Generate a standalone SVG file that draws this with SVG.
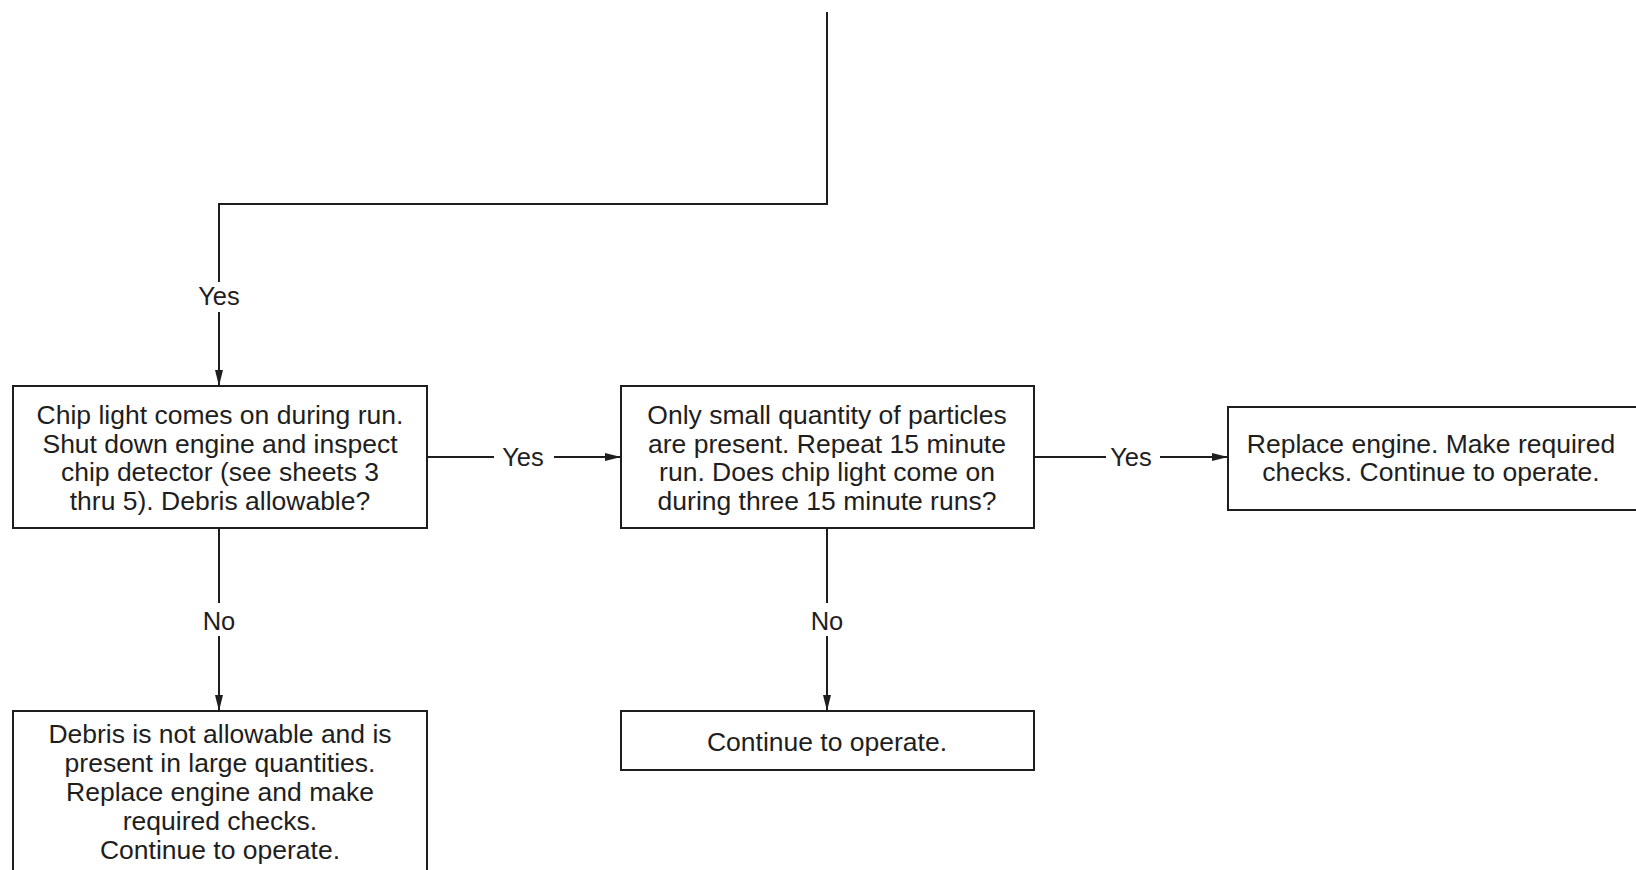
<svg xmlns="http://www.w3.org/2000/svg" width="1636" height="870" viewBox="0 0 1636 870">
  <style>
    .box { fill: #ffffff; stroke: #1e1e1e; stroke-width: 2; }
    .wire { fill: none; stroke: #1e1e1e; stroke-width: 2; }
    .txt { font-family: "Liberation Sans", Arial, sans-serif; font-size: 26.5px; fill: #1e1e1e; text-anchor: middle; }
    .lbl { font-family: "Liberation Sans", Arial, sans-serif; font-size: 25.5px; fill: #1e1e1e; text-anchor: middle; }
  </style>
  <defs>
    <marker id="arrow" markerUnits="userSpaceOnUse" markerWidth="18" markerHeight="10" refX="16" refY="5" orient="auto">
      <path d="M0,1 L16,5 L0,9 Z" fill="#1e1e1e"/>
    </marker>
  </defs>
  <rect width="1636" height="870" fill="#ffffff"/>

  <g id="connectors">
    <!-- incoming feed from above -->
    <polyline class="wire" points="827,12 827,204 219,204 219,282"/>
    <line class="wire" x1="219" y1="312" x2="219" y2="386" marker-end="url(#arrow)"/>
    <text class="lbl" x="219" y="305">Yes</text>

    <!-- chip light box -> small quantity box -->
    <line class="wire" x1="427" y1="457" x2="494" y2="457"/>
    <line class="wire" x1="554" y1="457" x2="621" y2="457" marker-end="url(#arrow)"/>
    <text class="lbl" x="523" y="466">Yes</text>

    <!-- small quantity box -> replace engine box -->
    <line class="wire" x1="1034" y1="457" x2="1106" y2="457"/>
    <line class="wire" x1="1160" y1="457" x2="1228" y2="457" marker-end="url(#arrow)"/>
    <text class="lbl" x="1131" y="466">Yes</text>

    <!-- chip light box -> debris not allowable box -->
    <line class="wire" x1="219" y1="528" x2="219" y2="603"/>
    <line class="wire" x1="219" y1="636" x2="219" y2="711" marker-end="url(#arrow)"/>
    <text class="lbl" x="219" y="630">No</text>

    <!-- small quantity box -> continue box -->
    <line class="wire" x1="827" y1="528" x2="827" y2="603"/>
    <line class="wire" x1="827" y1="636" x2="827" y2="711" marker-end="url(#arrow)"/>
    <text class="lbl" x="827" y="630">No</text>
  </g>

  <g id="chip-light">
    <rect class="box" x="13" y="386" width="414" height="142"/>
    <text class="txt" x="220" y="424">Chip light comes on during run.</text>
    <text class="txt" x="220" y="452.5">Shut down engine and inspect</text>
    <text class="txt" x="220" y="481">chip detector (see sheets 3</text>
    <text class="txt" x="220" y="509.5">thru 5). Debris allowable?</text>
  </g>

  <g id="small-quantity">
    <rect class="box" x="621" y="386" width="413" height="142"/>
    <text class="txt" x="827" y="424">Only small quantity of particles</text>
    <text class="txt" x="827" y="452.5">are present. Repeat 15 minute</text>
    <text class="txt" x="827" y="481">run. Does chip light come on</text>
    <text class="txt" x="827" y="509.5">during three 15 minute runs?</text>
  </g>

  <g id="replace-engine">
    <rect class="box" x="1228" y="407" width="412" height="103"/>
    <text class="txt" x="1431" y="453">Replace engine. Make required</text>
    <text class="txt" x="1431" y="481">checks. Continue to operate.</text>
  </g>

  <g id="debris-not-allowable">
    <rect class="box" x="13" y="711" width="414" height="170"/>
    <text class="txt" x="220" y="743">Debris is not allowable and is</text>
    <text class="txt" x="220" y="772">present in large quantities.</text>
    <text class="txt" x="220" y="801">Replace engine and make</text>
    <text class="txt" x="220" y="830">required checks.</text>
    <text class="txt" x="220" y="859">Continue to operate.</text>
  </g>

  <g id="continue">
    <rect class="box" x="621" y="711" width="413" height="59"/>
    <text class="txt" x="827" y="751">Continue to operate.</text>
  </g>
</svg>
